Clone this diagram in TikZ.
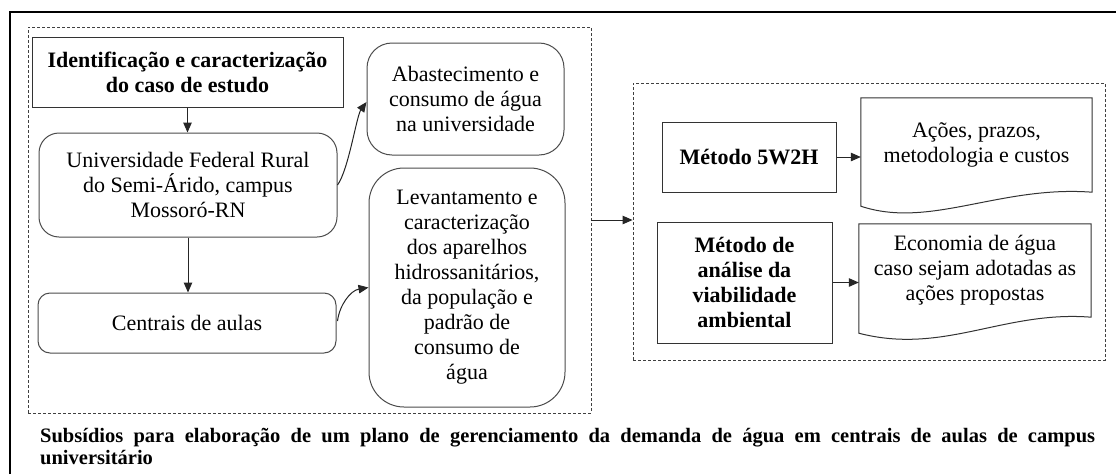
\documentclass[tikz,border=0pt]{standalone}
\usepackage{fontspec}
\setmainfont{Liberation Serif}
\usetikzlibrary{arrows.meta,calc}
\begin{document}
\begin{tikzpicture}[x=1pt,y=-1pt,
  boxtext/.style={font=\fontsize{22}{25}\selectfont, align=center, inner sep=0pt},
  boldtext/.style={font=\bfseries\fontsize{22}{25}\selectfont, align=center, inner sep=0pt},
  sqbox/.style={draw=black!80, line width=1pt},
  rbox/.style={draw=black!70, line width=1pt, rounded corners=#1},
  dashbox/.style={draw=black!75, line width=0.9pt, dash pattern=on 3pt off 2pt, inner sep=0pt},
  docline/.style={draw=black!80, line width=1pt},
  arr/.style={draw=black!85, line width=1pt, -{Triangle[length=10pt,width=8.5pt]}}
]
\fill[white] (0,0) rectangle (1116,474);
\useasboundingbox (0,0) rectangle (1116,474);
% outer frame
\draw[line width=2pt] (10,474) -- (10,12) -- (1116,12);
% containers
\node[dashbox, minimum width=563pt, minimum height=386pt] (lc) at (309.5,220) {};
\node[dashbox, minimum width=472pt, minimum height=277pt] (rc) at (869,221.5) {};
% left group
\node[boldtext, sqbox, minimum width=311pt, minimum height=70pt] (ident) at (187.5,72)
  {Identificação e caracterização\\do caso de estudo};
\node[boxtext, rbox=20pt, minimum width=298pt, minimum height=104pt] (univ) at (188,185)
  {Universidade Federal Rural\\do Semi-Árido, campus\\Mossoró-RN};
\node[boxtext, rbox=12pt, minimum width=298pt, minimum height=60pt] (centr) at (187,323)
  {Centrais de aulas};
\node[boxtext, rbox=25pt, minimum width=197pt, minimum height=112pt] (abast) at (465.5,99)
  {Abastecimento e\\consumo de água\\na universidade};
\node[boxtext, rbox=35pt, minimum width=196pt, minimum height=239pt] (levant) at (467,287.5)
  {Levantamento e\\caracterização\\dos aparelhos\\hidrossanitários,\\da população e\\padrão de\\consumo de\\água};
% right group
\node[boldtext, sqbox, minimum width=174pt, minimum height=70pt] (m1) at (749,157) {Método 5W2H};
\node[boldtext, sqbox, minimum width=175pt, minimum height=121pt] (m2) at (744.5,282.5)
  {Método de\\análise da\\viabilidade\\ambiental};
\node[boxtext, minimum width=231pt, minimum height=94pt] (acoes) at (976.5,145)
  {Ações, prazos,\\metodologia e custos};
\node[boxtext, minimum width=232pt, minimum height=93pt] (econ) at (975,270.5)
  {Economia de água\\caso sejam adotadas as\\ações propostas};
\draw[docline] (acoes.north west) -- (acoes.north east) -- (acoes.south east)
  .. controls ($(acoes.south west)+(139,-7)$) and ($(acoes.south west)+(69,37)$) ..
  ($(acoes.south west)+(0,14)$) -- cycle;
\draw[docline] (econ.north west) -- (econ.north east) -- (econ.south east)
  .. controls ($(econ.south west)+(145,-7)$) and ($(econ.south west)+(85,38)$) ..
  ($(econ.south west)+(0,16)$) -- cycle;
% connectors
\draw[arr] (ident.south) -- (ident.south |- univ.north);
\draw[arr] (univ.south) -- (univ.south |- centr.north);
\coordinate (abin) at ($(abast.west)+(0,3)$);
\draw[arr] (univ.east) .. controls ($(univ.east)+(11,-15)$) and ($(abin)+(-10,14)$) .. (abin);
\coordinate (ceout) at ($(centr.east)+(1,-2)$);
\draw[arr] (ceout) .. controls ($(ceout)+(2,-16)$) and ($(levant.west)+(-18,3)$) .. (levant.west);
\draw[arr] (lc.east) -- (lc.east -| rc.west);
\draw[arr] (m1.east) -- (m1.east -| acoes.west);
\draw[arr] (m2.east) -- (m2.east -| econ.west);
% caption
\node[anchor=north west, text width=1055pt, align=justify, inner sep=0pt,
  font=\bfseries\fontsize{20.5}{22}\selectfont] (cap) at (40,428)
  {\hyphenpenalty=10000 \exhyphenpenalty=10000 Subsídios para elaboração de um plano de gerenciamento da demanda de água em centrais de aulas de campus \mbox{universitário}};
\end{tikzpicture}
\end{document}
